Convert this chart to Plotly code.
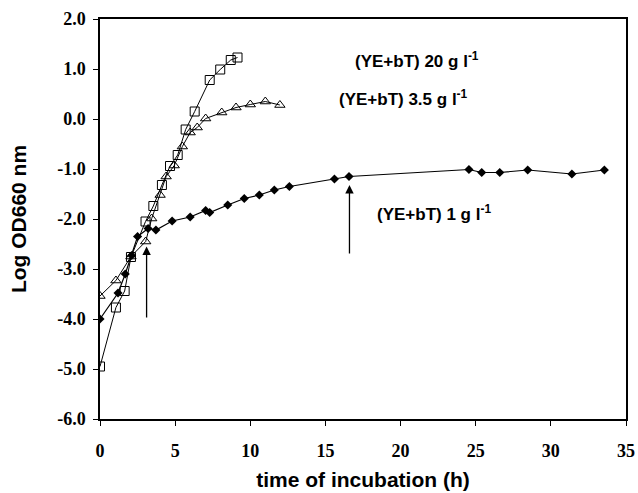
import plotly.graph_objects as go

# 20 g/l (open squares)
sq_x = [0, 1.06, 1.64, 2.06, 3.03, 3.55, 4.12, 4.66, 5.17, 5.7, 6.3, 7.3, 8.0, 8.7, 9.15]
sq_y = [-4.95, -3.77, -3.44, -2.76, -2.05, -1.74, -1.32, -0.94, -0.72, -0.21, 0.15, 0.78, 0.99, 1.18, 1.23]

# 3.5 g/l (open triangles)
tr_x = [0, 1.06, 2.06, 3.04, 3.44, 4.0, 4.4, 4.94, 5.48, 6.0, 6.47, 7.03, 8.1, 9.05, 10.0, 11.0, 11.97]
tr_y = [-3.54, -3.23, -2.75, -2.45, -1.99, -1.52, -1.15, -0.93, -0.55, -0.27, -0.17, 0.01, 0.13, 0.23, 0.29, 0.35, 0.28]

# 1 g/l (filled diamonds)
di_x = [0, 1.2, 1.68, 2.1, 2.5, 3.2, 3.72, 4.8, 6.0, 7.03, 7.3, 8.5, 9.6, 10.6, 11.6, 12.6,
        15.6, 16.57, 24.55, 25.4, 26.6, 28.46, 31.4, 33.56]
di_y = [-4.0, -3.48, -3.1, -2.73, -2.35, -2.19, -2.22, -2.04, -1.96, -1.83, -1.87, -1.72, -1.59, -1.52, -1.42, -1.35,
        -1.2, -1.15, -1.01, -1.07, -1.07, -1.02, -1.1, -1.02]

labels = ["(YE+bT) 20 g l<sup>-1</sup>", "(YE+bT) 3.5 g l<sup>-1</sup>", "(YE+bT) 1 g l<sup>-1</sup>"]
label_x = [21.1, 20.2, 22.2]
label_y = [1.18, 0.42, -1.88]

arrow_x = [3.1, 16.6]
arrow_from = [-4.0, -2.72]
arrow_to = [-2.55, -1.32]

x_ticks = [0, 5, 10, 15, 20, 25, 30, 35]
y_ticks = [2, 1, 0, -1, -2, -3, -4, -5, -6]

SERIF = "Liberation Serif, Times New Roman, serif"
SANS = "Liberation Sans, Arial, sans-serif"

fig = go.Figure()
fig.add_trace(go.Scatter(x=sq_x, y=sq_y, mode="lines+markers",
                         line=dict(color="black", width=1),
                         marker=dict(symbol="square-open", size=9, color="black", line=dict(width=1))))
fig.add_trace(go.Scatter(x=tr_x, y=tr_y, mode="lines+markers",
                         line=dict(color="black", width=1),
                         marker=dict(symbol="triangle-up-open", size=9, color="black", line=dict(width=1))))
fig.add_trace(go.Scatter(x=di_x, y=di_y, mode="lines+markers",
                         line=dict(color="black", width=1.2),
                         marker=dict(symbol="diamond", size=7, color="black")))

for t, x, y in zip(labels, label_x, label_y):
    fig.add_annotation(x=x, y=y, text="<b>" + t + "</b>", showarrow=False, xanchor="center",
                       font=dict(family=SANS, size=17, color="black"))

for x, y0, y1 in zip(arrow_x, arrow_from, arrow_to):
    fig.add_annotation(x=x, y=y1, ax=x, ay=y0, axref="x", ayref="y", xref="x", yref="y",
                       text="", showarrow=True, arrowhead=2, arrowsize=1.3, arrowwidth=1.3,
                       arrowcolor="black")

fig.update_layout(
    width=638, height=493,
    margin=dict(l=100, r=12, t=19, b=74),
    plot_bgcolor="white", paper_bgcolor="white",
    showlegend=False,
    xaxis=dict(range=[0, 35], tickvals=x_ticks, ticktext=["<b>%d</b>" % v for v in x_ticks],
               automargin=False,
               showgrid=False, zeroline=False, showline=True, linecolor="black", linewidth=1.5,
               mirror=True, ticks="outside", ticklen=5, tickcolor="black", ticklabelstandoff=10,
               tickfont=dict(family=SERIF, size=18, color="black"),
               title=dict(text="<b>time of incubation (h)</b>", standoff=12,
                          font=dict(family=SANS, size=21, color="black"))),
    yaxis=dict(range=[-6, 2], tickvals=y_ticks, ticktext=["<b>%.1f</b>" % v for v in y_ticks],
               automargin=False,
               showgrid=False, zeroline=False, showline=True, linecolor="black", linewidth=1.5,
               mirror=True, ticks="outside", ticklen=5, tickcolor="black", ticklabelstandoff=4,
               tickfont=dict(family=SERIF, size=18, color="black"),
               title=dict(text="<b>Log OD660 nm</b>", standoff=25,
                          font=dict(family=SANS, size=21, color="black"))),
)

fig.write_html("out.html", config={"displayModeBar": False},
               post_script="document.body.style.margin='0';document.body.style.overflow='hidden';")
